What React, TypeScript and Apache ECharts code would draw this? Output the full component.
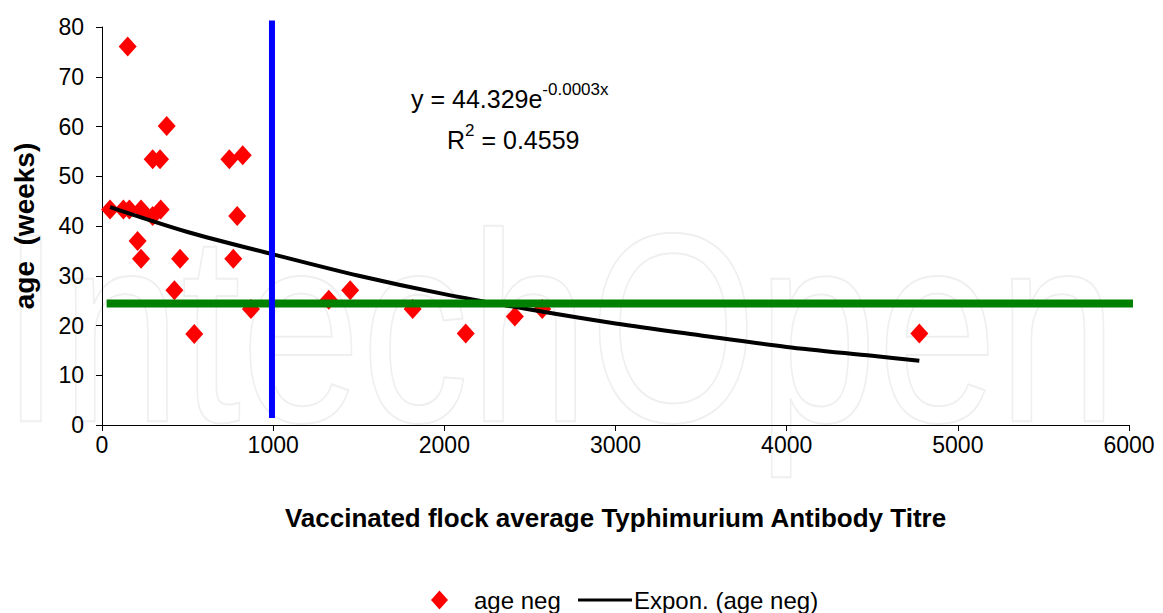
import React, { useEffect, useRef } from "react";
import * as echarts from "echarts";

// Scatter data: vaccinated flock average Typhimurium antibody titre vs age (weeks)
const titre = [47, 125, 160, 228, 343, 296, 150, 378, 296, 339, 208, 228, 456, 423, 539, 744, 822, 790, 767, 870, 1325, 1450, 1815, 2125, 2412, 2572, 4775];
const ageWeeks = [43.3, 43.3, 43.3, 43.3, 43.3, 42.0, 76.1, 60.1, 53.4, 53.4, 37.0, 33.4, 33.4, 27.1, 18.3, 53.4, 54.2, 42.0, 33.4, 23.3, 25.2, 27.1, 23.3, 18.4, 21.8, 23.3, 18.4];

// Exponential trendline
const trendX = [47, 500, 1000, 1500, 2000, 2500, 3000, 3500, 4000, 4500, 4775];
const trendY = [43.8, 38.8, 34.3, 30.0, 26.3, 23.2, 20.4, 18.0, 15.7, 13.9, 12.9];

// Reference lines
const thresholdTitre = [993, 993];
const thresholdTitreY = [81.3, 1.4];
const thresholdAgeX = [27, 6150];
const thresholdAge = [24.4, 24.4];

const xMin = 0, xMax = 6000, xInterval = 1000;
const yMin = 0, yMax = 80, yInterval = 10;

const FONT = "'Liberation Sans', Arial, sans-serif";

export default function App() {
  const ref = useRef<HTMLDivElement>(null);
  useEffect(() => {
    document.body.style.margin = "0";
    const chart = echarts.init(ref.current!, null, { renderer: "svg" });
    const scatterData = titre.map((x, i) => [x, ageWeeks[i]]);
    const trendData = trendX.map((x, i) => [x, trendY[i]]);
    const rich = {
      m: { fontSize: 25, fontFamily: FONT, fill: "#000", verticalAlign: "bottom", lineHeight: 30 },
      s: { fontSize: 17, fontFamily: FONT, fill: "#000", verticalAlign: "top", lineHeight: 30 },
    };
    chart.setOption({
      animation: false,
      backgroundColor: "#ffffff",
      textStyle: { fontFamily: FONT },
      grid: { left: 102, right: 34, top: 27, bottom: 188, containLabel: false },
      graphic: [
        {
          type: "text",
          left: 0,
          top: 192,
          z: -10,
          silent: true,
          scaleX: 0.8,
          style: {
            text: "IntechOpen",
            fontSize: 270,
            fontFamily: FONT,
            fill: "rgba(0,0,0,0)",
            stroke: "#efefef",
            lineWidth: 2,
          },
        },
        {
          type: "text",
          left: 411,
          top: 81,
          style: { text: "{m|y = 44.329e}{s|-0.0003x}", rich },
        },
        {
          type: "text",
          left: 447,
          top: 122,
          style: { text: "{m|R}{s|2}{m| = 0.4559}", rich },
        },
      ],
      legend: [
        {
          data: [{ name: "age neg", icon: "diamond" }],
          left: 431,
          top: 588,
          itemWidth: 17,
          itemHeight: 19,
          padding: 0,
          textStyle: { fontSize: 24, color: "#000", fontFamily: FONT, padding: [0, 0, 0, 21] },
          selectedMode: false,
        },
        {
          data: [{ name: "Expon. (age neg)", icon: "path://M0 0H54V3H0Z" }],
          symbolKeepAspect: true,
          left: 578,
          top: 588,
          itemWidth: 54,
          itemHeight: 19,
          itemGap: 0,
          padding: 0,
          itemStyle: { color: "#000" },
          textStyle: { fontSize: 24, color: "#000", fontFamily: FONT, padding: [0, 0, 0, -3] },
          selectedMode: false,
        },
      ],
      xAxis: {
        type: "value",
        min: xMin,
        max: xMax,
        interval: xInterval,
        name: "Vaccinated flock average Typhimurium Antibody Titre",
        nameLocation: "middle",
        nameGap: 80,
        nameTextStyle: { fontSize: 26, fontWeight: "bold", color: "#000", fontFamily: FONT },
        axisLine: { lineStyle: { color: "#000", width: 1 } },
        axisTick: { show: true, length: 6, inside: false, lineStyle: { color: "#000" } },
        axisLabel: { fontSize: 23, color: "#000", margin: 8, fontFamily: FONT, formatter: (v: number) => String(v) },
        splitLine: { show: false },
      },
      yAxis: {
        type: "value",
        min: yMin,
        max: yMax,
        interval: yInterval,
        name: "age  (weeks)",
        nameLocation: "middle",
        nameGap: 64,
        nameTextStyle: { fontSize: 28, fontWeight: "bold", color: "#000", fontFamily: FONT },
        axisLine: { show: true, lineStyle: { color: "#000", width: 1 } },
        axisTick: { show: true, length: 6, inside: false, lineStyle: { color: "#000" } },
        axisLabel: { fontSize: 23, color: "#000", margin: 18, fontFamily: FONT },
        splitLine: { show: false },
      },
      series: [
        {
          name: "age neg",
          type: "scatter",
          symbol: "diamond",
          symbolSize: [18, 20],
          itemStyle: { color: "#ff0000", opacity: 1 },
          data: scatterData,
          z: 2,
        },
        {
          name: "Expon. (age neg)",
          type: "line",
          data: trendData,
          smooth: 0.3,
          showSymbol: false,
          symbol: "none",
          lineStyle: { color: "#000", width: 4 },
          itemStyle: { color: "#000" },
          z: 3,
        },
        {
          name: "ageThreshold",
          type: "line",
          data: thresholdAgeX.map((x, i) => [x, thresholdAge[i]]),
          showSymbol: false,
          symbol: "none",
          clip: false,
          lineStyle: { color: "#008000", width: 8 },
          z: 4,
          silent: true,
        },
        {
          name: "titreThreshold",
          type: "line",
          data: thresholdTitre.map((x, i) => [x, thresholdTitreY[i]]),
          showSymbol: false,
          symbol: "none",
          clip: false,
          lineStyle: { color: "#0000ff", width: 6 },
          z: 5,
          silent: true,
        },
      ],
    });
    return () => chart.dispose();
  }, []);
  return <div ref={ref} style={{ width: 1163, height: 613 }} />;
}
